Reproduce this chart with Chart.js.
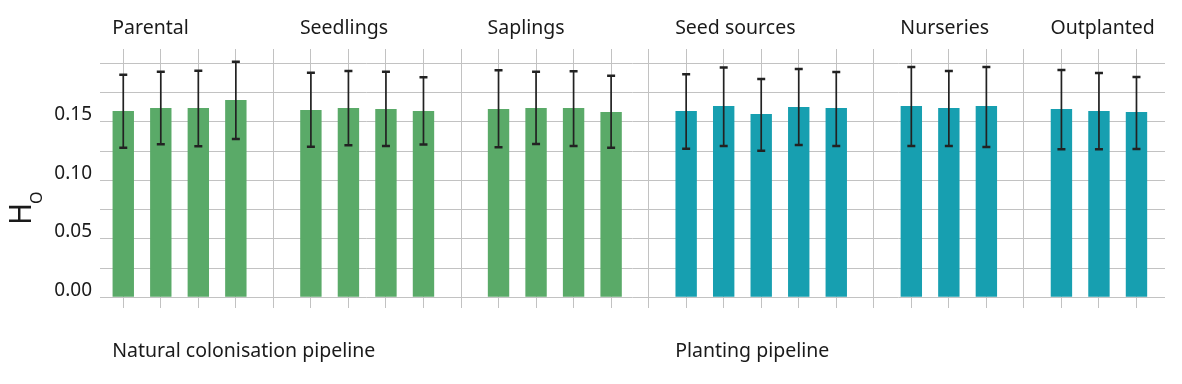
<!DOCTYPE html>
<html>
<head>
<meta charset="utf-8">
<script src="https://cdn.jsdelivr.net/npm/chart.js@4"></script>
<style>
  body { margin: 0; background: #fff; }
  #wrap { width: 1182px; height: 384px; position: relative; }
</style>
</head>
<body>
<div id="wrap"><canvas id="hoChart"></canvas></div>
<script>
// facets (panels) and the pipeline each one belongs to
const facets = ['Parental', 'Seedlings', 'Saplings', 'Seed sources', 'Nurseries', 'Outplanted'];
const facetPipeline = [0, 0, 0, 1, 1, 1];
const pipelines = ['Natural colonisation pipeline', 'Planting pipeline'];
const pipelineColors = ['#5aaa68', '#179fb0'];

const hoMean = [
    [0.1592, 0.1618, 0.1618, 0.1686],
    [0.1601, 0.1618, 0.1609, 0.1592],
    [0.1609, 0.1618, 0.1618, 0.1584],
    [0.1592, 0.1635, 0.1567, 0.1626, 0.1618],
    [0.1635, 0.1618, 0.1635],
    [0.1609, 0.1592, 0.1584]
];
const hoLower = [
    [0.1279, 0.1308, 0.1291, 0.1353],
    [0.1287, 0.1299, 0.1293, 0.1305],
    [0.1282, 0.1310, 0.1293, 0.1279],
    [0.1270, 0.1293, 0.1253, 0.1302, 0.1293],
    [0.1293, 0.1293, 0.1285],
    [0.1265, 0.1265, 0.1268]
];
const hoUpper = [
    [0.1903, 0.1928, 0.1937, 0.2014],
    [0.1920, 0.1934, 0.1928, 0.1880],
    [0.1940, 0.1928, 0.1931, 0.1894],
    [0.1906, 0.1963, 0.1866, 0.1951, 0.1926],
    [0.1968, 0.1934, 0.1968],
    [0.1943, 0.1917, 0.1883]
];

const yTicks = [0, 0.025, 0.05, 0.075, 0.1, 0.125, 0.15, 0.175, 0.2];
const yLabelled = [0, 0.05, 0.1, 0.15];

const FONT = '"Noto Sans", "Open Sans", sans-serif';

// lay the bars out on one x axis, one empty slot between facets
let pos = 0;
const facetStart = [];
const datasetsData = [[], []];
const errorBars = [];
facets.forEach((name, f) => {
    facetStart.push(pos);
    hoMean[f].forEach((v, i) => {
        datasetsData[facetPipeline[f]].push({ x: pos, y: v });
        errorBars.push({ x: pos, lo: hoLower[f][i], hi: hoUpper[f][i] });
        pos++;
    });
    pos++;
});
const lastSlot = pos - 2;

const errorBarPlugin = {
    id: 'errorBars',
    afterDatasetsDraw(chart) {
        const ctx = chart.ctx;
        const xs = chart.scales.x, ys = chart.scales.y;
        ctx.save();
        ctx.strokeStyle = '#222';
        errorBars.forEach(e => {
            const x = xs.getPixelForValue(e.x);
            const yLo = ys.getPixelForValue(e.lo);
            const yHi = ys.getPixelForValue(e.hi);
            ctx.lineWidth = 1.7;
            ctx.beginPath();
            ctx.moveTo(x, yLo);
            ctx.lineTo(x, yHi);
            ctx.stroke();
            ctx.lineWidth = 2.5;
            ctx.beginPath();
            ctx.moveTo(x - 4, yLo); ctx.lineTo(x + 4, yLo);
            ctx.moveTo(x - 4, yHi); ctx.lineTo(x + 4, yHi);
            ctx.stroke();
        });
        ctx.restore();
    }
};

const labelPlugin = {
    id: 'facetLabels',
    afterDraw(chart) {
        const ctx = chart.ctx;
        const xs = chart.scales.x;
        ctx.save();
        ctx.fillStyle = '#1a1a1a';
        ctx.textAlign = 'left';
        ctx.textBaseline = 'alphabetic';
        ctx.font = '19.5px ' + FONT;
        facets.forEach((name, f) => {
            ctx.fillText(name, xs.getPixelForValue(facetStart[f]) - 11, 34);
        });
        pipelines.forEach((name, p) => {
            const f = facetPipeline.indexOf(p);
            ctx.fillText(name, xs.getPixelForValue(facetStart[f]) - 11, 357);
        });

        // y axis title H with subscript O
        ctx.translate(31, 225);
        ctx.rotate(-Math.PI / 2);
        ctx.font = '30px ' + FONT;
        ctx.fillText('H', 0, 0);
        ctx.font = '16px ' + FONT;
        ctx.fillText('O', 21, 11);
        ctx.restore();
    }
};

new Chart(document.getElementById('hoChart'), {
    type: 'bar',
    data: {
        datasets: pipelines.map((name, p) => ({
            label: name,
            data: datasetsData[p],
            backgroundColor: pipelineColors[p],
            borderWidth: 0,
            grouped: false,
            barPercentage: 0.57,
            categoryPercentage: 1
        }))
    },
    options: {
        responsive: true,
        maintainAspectRatio: false,
        animation: false,
        layout: { padding: { top: 49, right: 17, bottom: 76, left: 0 } },
        plugins: {
            legend: { display: false },
            tooltip: { enabled: false }
        },
        scales: {
            x: {
                type: 'linear',
                offset: false,
                min: -0.62,
                max: lastSlot + 0.76,
                afterBuildTicks: scale => {
                    const t = [];
                    for (let i = 0; i <= lastSlot; i++) t.push({ value: i });
                    scale.ticks = t;
                },
                afterFit: scale => { scale.height = 0; },
                ticks: { display: false },
                grid: { offset: false, color: '#c2c2c2', lineWidth: 1, drawTicks: false },
                border: { display: false }
            },
            y: {
                min: -0.0091,
                max: 0.2122,
                afterBuildTicks: scale => {
                    scale.ticks = yTicks.map(v => ({ value: v }));
                },
                afterFit: scale => { scale.width = 100; },
                ticks: {
                    padding: 8,
                    labelOffset: -7,
                    color: '#1a1a1a',
                    font: { family: FONT, size: 19 },
                    callback: v => yLabelled.some(l => Math.abs(l - v) < 1e-6) ? v.toFixed(2) : ''
                },
                grid: { color: '#c2c2c2', lineWidth: 1, drawTicks: false },
                border: { display: false }
            }
        }
    },
    plugins: [errorBarPlugin, labelPlugin]
});
</script>
</body>
</html>
